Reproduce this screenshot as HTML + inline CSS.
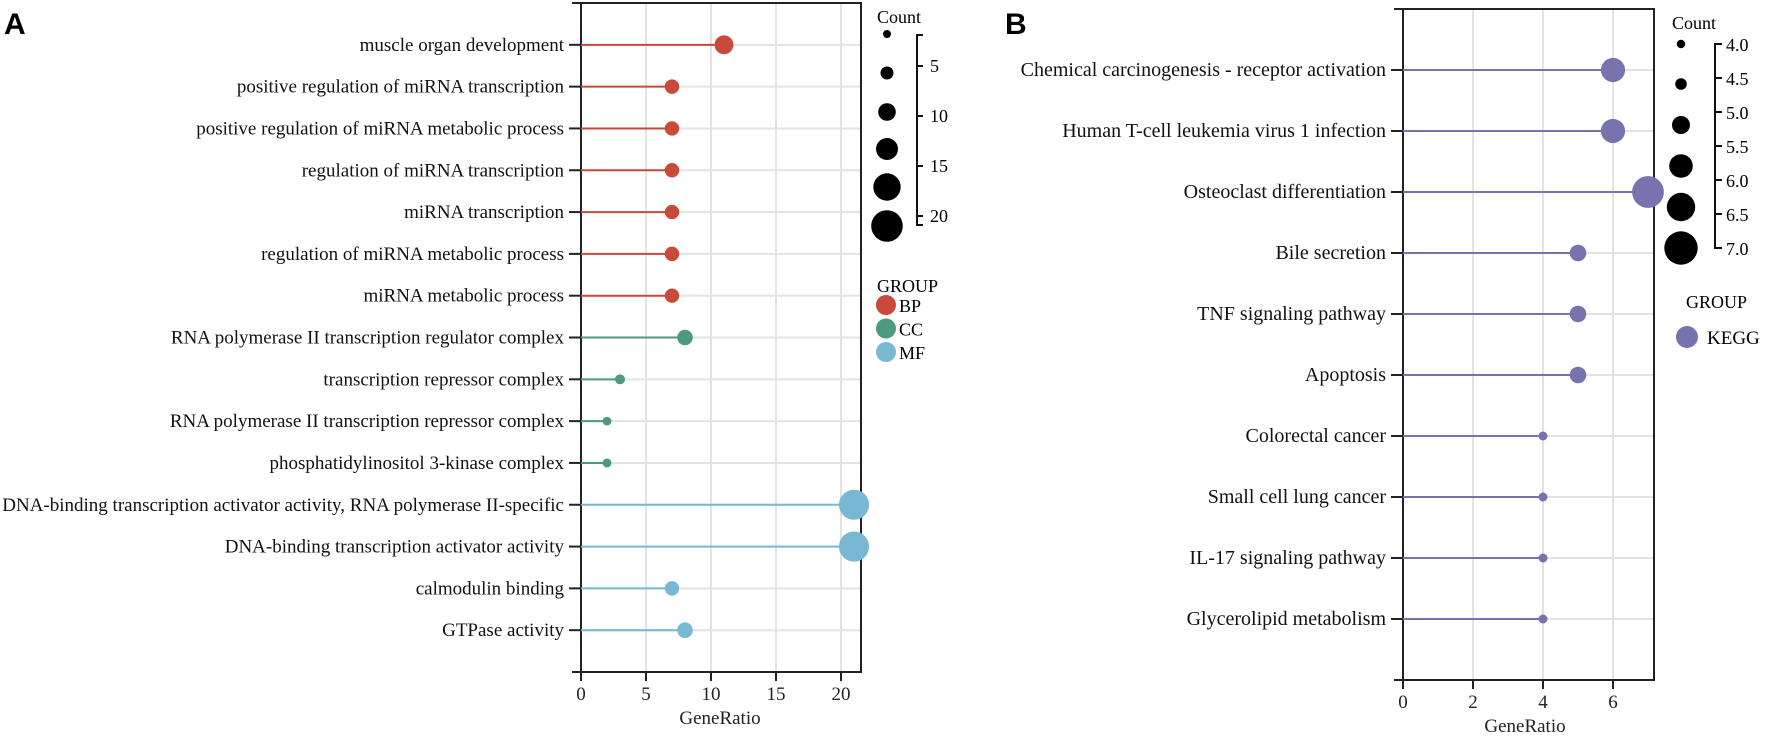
<!DOCTYPE html>
<html><head><meta charset="utf-8">
<style>
html,body{margin:0;padding:0;background:#fff;}
svg{display:block;font-family:"Liberation Serif",serif;}
</style></head>
<body>
<svg id="chart" width="1772" height="738" viewBox="0 0 1772 738" xmlns="http://www.w3.org/2000/svg">
<text x="4" y="34" font-family="Liberation Sans, sans-serif" font-weight="bold" font-size="30">A</text>
<text x="1005" y="34" font-family="Liberation Sans, sans-serif" font-weight="bold" font-size="30">B</text>
<g id="pa"></g>
<g id="pb"></g>
</svg>
<script>
const termsA = ["muscle organ development","positive regulation of miRNA transcription","positive regulation of miRNA metabolic process","regulation of miRNA transcription","miRNA transcription","regulation of miRNA metabolic process","miRNA metabolic process","RNA polymerase II transcription regulator complex","transcription repressor complex","RNA polymerase II transcription repressor complex","phosphatidylinositol 3-kinase complex","DNA-binding transcription activator activity, RNA polymerase II-specific","DNA-binding transcription activator activity","calmodulin binding","GTPase activity"];
const valuesA = [11,7,7,7,7,7,7,8,3,2,2,21,21,7,8];
const groupsA = ["BP","BP","BP","BP","BP","BP","BP","CC","CC","CC","CC","MF","MF","MF","MF"];
const ticksA = [0,5,10,15,20];
const termsB = ["Chemical carcinogenesis - receptor activation","Human T-cell leukemia virus 1 infection","Osteoclast differentiation","Bile secretion","TNF signaling pathway","Apoptosis","Colorectal cancer","Small cell lung cancer","IL-17 signaling pathway","Glycerolipid metabolism"];
const valuesB = [6,6,7,5,5,5,4,4,4,4];
const ticksB = [0,2,4,6];
const legendCountA = ["5","10","15","20"];
const legendCountB = ["4.0","4.5","5.0","5.5","6.0","6.5","7.0"];

const colors = {BP:"#c9493a",CC:"#4e9a80",MF:"#79b8d3",KEGG:"#7673ad"};
const NS = "http://www.w3.org/2000/svg";
function mk(parent, tag, attrs, text){
  const e = document.createElementNS(NS, tag);
  for (const k in attrs) e.setAttribute(k, attrs[k]);
  if (text !== undefined) e.textContent = text;
  parent.appendChild(e);
  return e;
}

function panel(g, cfg){
  const {x0, x1, yTop, yBot, pxPerUnit, terms, values, groups, ticks, rFn, prefix} = cfg;
  const n = terms.length;
  const step = (yBot - yTop) / (n + 1);
  const xs = v => x0 + v * pxPerUnit;
  const ys = i => yTop + step * (i + 1);
  ticks.forEach(t => { if (t>0){ const l = mk(g,'line',{x1:xs(t),x2:xs(t),y1:yTop,y2:yBot,stroke:'#e3e3e3','stroke-width':2});
    
     }});
  terms.forEach((t,i) => { const l = mk(g,'line',{x1:x0,x2:x1,y1:ys(i),y2:ys(i),stroke:'#e3e3e3','stroke-width':2});
    
     });
  const fr = mk(g,'path',{d:`M${x0-9},${yTop}H${x1}V${yBot}H${x0-9}M${x0},${yTop}V${yBot+9}`,fill:'none',stroke:'#222','stroke-width':2});
  
  
  terms.forEach((t,i) => {
    const y = ys(i), c = colors[groups[i]];
    const tk = mk(g,'line',{x1:x0-12,x2:x0,y1:y,y2:y,stroke:'#222','stroke-width':2});
    
    
    const lb = mk(g,'text',{x:x0-17,y:y+6,'text-anchor':'end','font-size':cfg.fs,fill:'#111'},t);
    
    
    const st = mk(g,'line',{x1:x0,x2:xs(values[i]),y1:y,y2:y,stroke:c,'stroke-width':2});
    
    
    const d = mk(g,'circle',{cx:xs(values[i]),cy:y,r:rFn(values[i]),fill:c});
    
    
  });
  ticks.forEach(t => {
    const tk = mk(g,'line',{x1:xs(t),x2:xs(t),y1:yBot,y2:yBot+9,stroke:'#222','stroke-width':2});
    
    
    const lb = mk(g,'text',{x:xs(t),y:yBot+28,'text-anchor':'middle','font-size':19,fill:'#222'},String(t));
    
    
  });
  const xt = mk(g,'text',{x:cfg.titleX,y:yBot+52,'text-anchor':'middle','font-size':19,fill:'#222'},'GeneRatio');
  
  
}

const gA = document.getElementById('pa'), gB = document.getElementById('pb');
panel(gA,{x0:581,x1:861,yTop:3,yBot:672,pxPerUnit:13,terms:termsA,values:valuesA,groups:groupsA,ticks:ticksA,rFn:c=>3.3+0.56*c,prefix:'a',fs:19,titleX:720});
panel(gB,{x0:1403,x1:1654,yTop:9,yBot:680,pxPerUnit:35,terms:termsB,values:valuesB,groups:termsB.map(()=> "KEGG"),ticks:ticksB,rFn:c=>4.5+3.8*(c-4),prefix:'b',fs:20,titleX:1525});

(function(){
  const g = mk(gA,'g',{});
  
  
  const t = mk(g,'text',{x:877,y:23,'font-size':18},'Count');
  
  
  const ry=[34,73,112,149,187,226], rr=[4,6.5,8.8,11,13.7,15.8];
  ry.forEach((y,i)=>{ const c=mk(g,'circle',{cx:887,cy:y,r:rr[i],fill:'#000'});
    
     });
  mk(g,'path',{d:'M923,35H917V225H923',fill:'none',stroke:'#111','stroke-width':2});
  legendCountA.forEach((l,i)=>{ const y=66+i*50;
    mk(g,'line',{x1:917,x2:923,y1:y,y2:y,stroke:'#111','stroke-width':2});
    const tx=mk(g,'text',{x:930,y:y+6,'font-size':18},l);
    
     });
  const gt=mk(g,'text',{x:877,y:292,'font-size':18},'GROUP');
  
  
  ['BP','CC','MF'].forEach((k,i)=>{ const y=305+i*23.5;
    const c=mk(g,'circle',{cx:886,cy:y,r:10,fill:colors[k]});
    
    
    const tx=mk(g,'text',{x:899,y:y+7,'font-size':18},k);
    
     });
})();
(function(){
  const g = mk(gB,'g',{});
  
  
  const t = mk(g,'text',{x:1672,y:29,'font-size':18},'Count');
  
  
  const ry=[44,84,125,166,207,248], rr=[4.2,5.8,9,11.8,14.2,16.7];
  ry.forEach((y,i)=>{ const c=mk(g,'circle',{cx:1681,cy:y,r:rr[i],fill:'#000'});
    
     });
  mk(g,'path',{d:'M1721,44H1715V248H1721',fill:'none',stroke:'#111','stroke-width':2});
  legendCountB.forEach((l,i)=>{ const y=44+i*34;
    mk(g,'line',{x1:1715,x2:1722,y1:y,y2:y,stroke:'#111','stroke-width':2});
    const tx=mk(g,'text',{x:1726,y:y+7,'font-size':18},l);
    
     });
  const gt=mk(g,'text',{x:1686,y:308,'font-size':18},'GROUP');
  
  
  const c=mk(g,'circle',{cx:1687,cy:337,r:11,fill:colors.KEGG});
  
  
  const tx=mk(g,'text',{x:1707,y:344,'font-size':19},'KEGG');
  
  
})();
</script>
</body></html>
